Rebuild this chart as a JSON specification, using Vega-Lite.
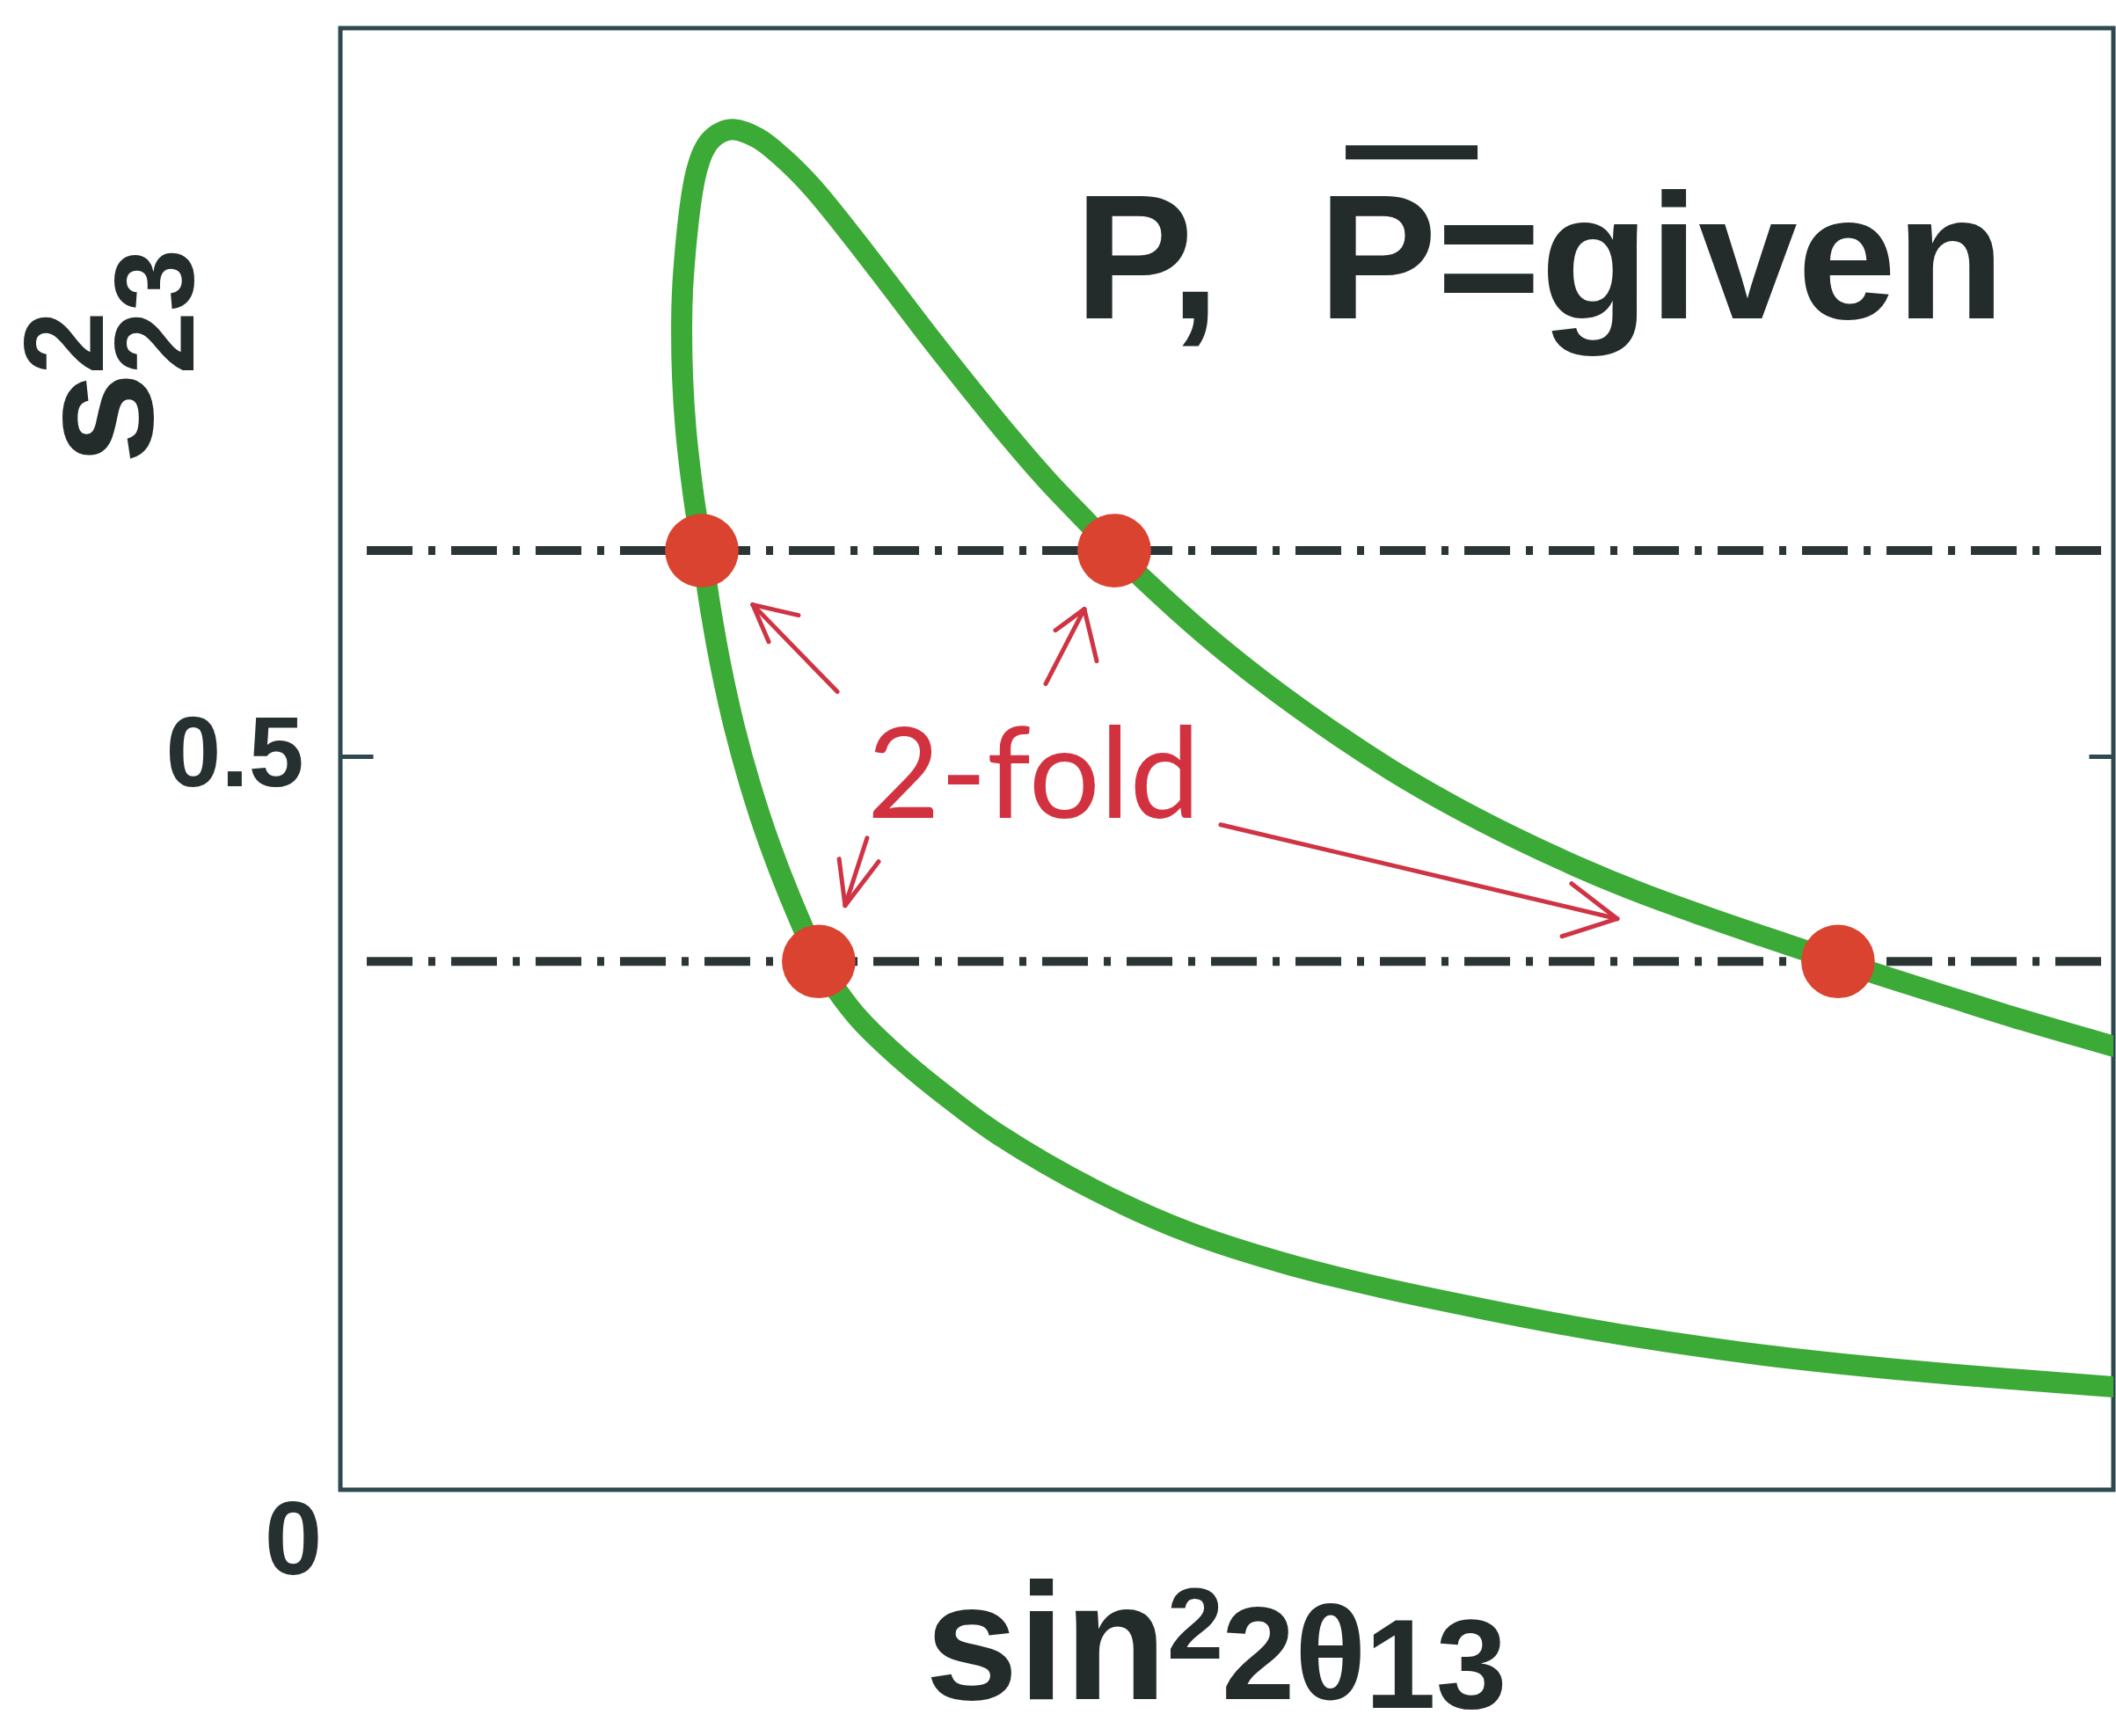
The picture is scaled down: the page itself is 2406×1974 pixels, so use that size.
{
  "$schema": "https://vega.github.io/schema/vega-lite/v6.json",
  "autosize": {"type": "none"},
  "padding": {"left": 387, "top": 32, "right": 3, "bottom": 280},
  "width": 2016,
  "height": 1662,
  "background": "white",
  "config": {"view": {"stroke": "#2e4a50", "strokeWidth": 5}},
  "datasets": {
    "curve": [
      {"i": 0, "x": 1.0, "y": 0.3022},
      {"i": 1, "x": 0.9489, "y": 0.3201},
      {"i": 2, "x": 0.9077, "y": 0.3357},
      {"i": 3, "x": 0.8447, "y": 0.36},
      {"i": 4, "x": 0.8026, "y": 0.3771},
      {"i": 5, "x": 0.7679, "y": 0.3915},
      {"i": 6, "x": 0.7326, "y": 0.4071},
      {"i": 7, "x": 0.6979, "y": 0.4245},
      {"i": 8, "x": 0.6627, "y": 0.4442},
      {"i": 9, "x": 0.628, "y": 0.4658},
      {"i": 10, "x": 0.5928, "y": 0.4904},
      {"i": 11, "x": 0.558, "y": 0.518},
      {"i": 12, "x": 0.5228, "y": 0.5486},
      {"i": 13, "x": 0.4876, "y": 0.5827},
      {"i": 14, "x": 0.4529, "y": 0.6205},
      {"i": 15, "x": 0.4365, "y": 0.64},
      {"i": 16, "x": 0.4211, "y": 0.6595},
      {"i": 17, "x": 0.3988, "y": 0.6877},
      {"i": 18, "x": 0.3765, "y": 0.7188},
      {"i": 19, "x": 0.3547, "y": 0.7512},
      {"i": 20, "x": 0.3323, "y": 0.7854},
      {"i": 21, "x": 0.31, "y": 0.8207},
      {"i": 22, "x": 0.2882, "y": 0.8549},
      {"i": 23, "x": 0.2659, "y": 0.8879},
      {"i": 24, "x": 0.2495, "y": 0.9077},
      {"i": 25, "x": 0.2356, "y": 0.9209},
      {"i": 26, "x": 0.2217, "y": 0.9269},
      {"i": 27, "x": 0.2148, "y": 0.9251},
      {"i": 28, "x": 0.2088, "y": 0.9197},
      {"i": 29, "x": 0.2044, "y": 0.9113},
      {"i": 30, "x": 0.2009, "y": 0.8987},
      {"i": 31, "x": 0.1984, "y": 0.8837},
      {"i": 32, "x": 0.1964, "y": 0.8657},
      {"i": 33, "x": 0.1944, "y": 0.8417},
      {"i": 34, "x": 0.193, "y": 0.8177},
      {"i": 35, "x": 0.1925, "y": 0.7938},
      {"i": 36, "x": 0.193, "y": 0.7578},
      {"i": 37, "x": 0.1949, "y": 0.7218},
      {"i": 38, "x": 0.1989, "y": 0.6799},
      {"i": 39, "x": 0.2039, "y": 0.64},
      {"i": 40, "x": 0.2088, "y": 0.6001},
      {"i": 41, "x": 0.2148, "y": 0.56},
      {"i": 42, "x": 0.2222, "y": 0.5198},
      {"i": 43, "x": 0.2312, "y": 0.4802},
      {"i": 44, "x": 0.2421, "y": 0.44},
      {"i": 45, "x": 0.255, "y": 0.3999},
      {"i": 46, "x": 0.2698, "y": 0.36},
      {"i": 47, "x": 0.2803, "y": 0.3399},
      {"i": 48, "x": 0.2932, "y": 0.3201},
      {"i": 49, "x": 0.317, "y": 0.2926},
      {"i": 50, "x": 0.3438, "y": 0.2662},
      {"i": 51, "x": 0.371, "y": 0.2422},
      {"i": 52, "x": 0.4251, "y": 0.2044},
      {"i": 53, "x": 0.4792, "y": 0.1751},
      {"i": 54, "x": 0.5332, "y": 0.1541},
      {"i": 55, "x": 0.5868, "y": 0.1379},
      {"i": 56, "x": 0.6409, "y": 0.1241},
      {"i": 57, "x": 0.6949, "y": 0.1115},
      {"i": 58, "x": 0.749, "y": 0.1007},
      {"i": 59, "x": 0.8031, "y": 0.0917},
      {"i": 60, "x": 0.8571, "y": 0.0845},
      {"i": 61, "x": 0.9107, "y": 0.0785},
      {"i": 62, "x": 1.0, "y": 0.0701}
    ],
    "levels": [{"y": 0.64}, {"y": 0.36}],
    "dots": [
      {"x": 0.2039, "y": 0.64},
      {"x": 0.4365, "y": 0.64},
      {"x": 0.2698, "y": 0.36},
      {"x": 0.8447, "y": 0.36}
    ],
    "arrows": [
      {"x": 0.2803, "y": 0.5438, "x2": 0.2326, "y2": 0.6031},
      {"x": 0.2326, "y": 0.6031, "x2": 0.2584, "y2": 0.5959},
      {"x": 0.2326, "y": 0.6031, "x2": 0.2416, "y2": 0.5779},
      {"x": 0.3978, "y": 0.5492, "x2": 0.4196, "y2": 0.6001},
      {"x": 0.4196, "y": 0.6001, "x2": 0.4033, "y2": 0.5857},
      {"x": 0.4196, "y": 0.6001, "x2": 0.4266, "y2": 0.5647},
      {"x": 0.2971, "y": 0.4442, "x2": 0.2847, "y2": 0.3981},
      {"x": 0.2847, "y": 0.3981, "x2": 0.2813, "y2": 0.4299},
      {"x": 0.2847, "y": 0.3981, "x2": 0.3036, "y2": 0.4281},
      {"x": 0.4965, "y": 0.4532, "x2": 0.7202, "y2": 0.3891},
      {"x": 0.7202, "y": 0.3891, "x2": 0.6944, "y2": 0.4131},
      {"x": 0.7202, "y": 0.3891, "x2": 0.689, "y2": 0.3771}
    ],
    "overbar": [{"x": 0.567, "x2": 0.6414, "y": 0.9113}],
    "notes": [
      {"key": "title", "text": "P,\u00a0\u00a0P=given", "x": 0.4142, "y": 0.798},
      {"key": "fold", "text": "2-fold", "x": 0.2971, "y": 0.458},
      {"key": "ys", "text": "s", "x": -0.1062, "y": 0.7302},
      {"key": "yidx", "text": "2", "x": -0.1339, "y": 0.7602},
      {"key": "yidx", "text": "23", "x": -0.0828, "y": 0.7602},
      {"key": "xsin", "text": "sin", "x": 0.3299, "y": -0.1427},
      {"key": "xsup", "text": "2", "x": 0.4663, "y": -0.1151},
      {"key": "x2t", "text": "2θ", "x": 0.497, "y": -0.1427},
      {"key": "xsub", "text": "13", "x": 0.5779, "y": -0.1487}
    ]
  },
  "resolve": {"axis": {"y": "independent"}},
  "layer": [
    {
      "data": {"name": "curve"},
      "mark": {"type": "line", "interpolate": "catmull-rom", "stroke": "#3caa37", "strokeWidth": 24, "strokeCap": "round", "strokeJoin": "round", "clip": true},
      "encoding": {
        "x": {"field": "x", "type": "quantitative", "scale": {"domain": [0, 1], "nice": false, "zero": false}, "axis": null},
        "y": {
          "field": "y", "type": "quantitative",
          "scale": {"domain": [0, 0.996], "nice": false, "zero": false},
          "axis": {
            "orient": "left", "values": [0, 0.5], "title": null, "domain": false, "grid": false,
            "ticks": true, "tickSize": -37, "tickWidth": 5, "tickColor": "#2e4a50",
            "tickOpacity": {"condition": {"test": "datum.value === 0", "value": 0}, "value": 1},
            "labelExpr": "datum.value === 0 ? '0' : '0.5'",
            "labelFont": "Liberation Sans", "labelFontWeight": "bold", "labelColor": "#263030",
            "labelFontSize": {"condition": {"test": "datum.value === 0", "value": 118}, "value": 113},
            "labelPadding": {"condition": {"test": "datum.value === 0", "value": 58}, "value": 79},
            "labelOffset": {"condition": {"test": "datum.value === 0", "value": 60}, "value": 0},
            "labelAlign": "right", "labelBaseline": "middle",
            "labelOverlap": false, "labelFlush": false, "labelBound": false
          }
        },
        "order": {"field": "i", "type": "quantitative"}
      }
    },
    {
      "data": {"name": "levels"},
      "mark": {"type": "rule", "stroke": "#2b3535", "strokeWidth": 10, "strokeDash": [52, 18, 8, 18], "strokeCap": "butt"},
      "encoding": {
        "x": {"datum": 0.0149, "type": "quantitative", "scale": {"domain": [0, 1], "nice": false, "zero": false}, "axis": null},
        "x2": {"datum": 1},
        "y": {"field": "y", "type": "quantitative", "scale": {"domain": [0, 0.996], "nice": false, "zero": false}, "axis": null}
      }
    },
    {
      "data": {"name": "dots"},
      "mark": {"type": "point", "shape": "circle", "filled": true, "size": 7000, "color": "#d9432f", "opacity": 1},
      "encoding": {
        "x": {"field": "x", "type": "quantitative", "scale": {"domain": [0, 1], "nice": false, "zero": false}, "axis": null},
        "y": {
          "field": "y", "type": "quantitative",
          "scale": {"domain": [0, 0.996], "nice": false, "zero": false},
          "axis": {
            "orient": "right", "values": [0.5], "title": null, "domain": false, "grid": false,
            "labels": false, "ticks": true, "tickSize": -28, "tickWidth": 5, "tickColor": "#2e4a50"
          }
        }
      }
    },
    {
      "data": {"name": "arrows"},
      "mark": {"type": "rule", "stroke": "#cf3444", "strokeWidth": 5, "strokeCap": "round"},
      "encoding": {
        "x": {"field": "x", "type": "quantitative", "scale": {"domain": [0, 1], "nice": false, "zero": false}, "axis": null},
        "y": {"field": "y", "type": "quantitative", "scale": {"domain": [0, 0.996], "nice": false, "zero": false}, "axis": null},
        "x2": {"field": "x2"},
        "y2": {"field": "y2"}
      }
    },
    {
      "data": {"name": "overbar"},
      "mark": {"type": "rule", "stroke": "#232b2b", "strokeWidth": 16, "strokeCap": "butt"},
      "encoding": {
        "x": {"field": "x", "type": "quantitative", "scale": {"domain": [0, 1], "nice": false, "zero": false}, "axis": null},
        "x2": {"field": "x2"},
        "y": {"field": "y", "type": "quantitative", "scale": {"domain": [0, 0.996], "nice": false, "zero": false}, "axis": null}
      }
    },
    {
      "data": {"name": "notes"},
      "transform": [{"filter": "datum.key === 'title'"}],
      "mark": {"type": "text", "font": "Liberation Sans", "fontWeight": "bold", "fontSize": 202, "color": "#232b2b", "align": "left", "baseline": "alphabetic"},
      "encoding": {
        "x": {"field": "x", "type": "quantitative", "scale": {"domain": [0, 1], "nice": false, "zero": false}, "axis": null},
        "y": {"field": "y", "type": "quantitative", "scale": {"domain": [0, 0.996], "nice": false, "zero": false}, "axis": null},
        "text": {"field": "text"}
      }
    },
    {
      "data": {"name": "notes"},
      "transform": [{"filter": "datum.key === 'fold'"}],
      "mark": {"type": "text", "font": "Lato", "fontWeight": 400, "fontSize": 143, "color": "#d2323f", "align": "left", "baseline": "alphabetic"},
      "encoding": {
        "x": {"field": "x", "type": "quantitative", "scale": {"domain": [0, 1], "nice": false, "zero": false}, "axis": null},
        "y": {"field": "y", "type": "quantitative", "scale": {"domain": [0, 0.996], "nice": false, "zero": false}, "axis": null},
        "text": {"field": "text"}
      }
    },
    {
      "data": {"name": "notes"},
      "transform": [{"filter": "datum.key === 'ys'"}],
      "mark": {"type": "text", "font": "Liberation Sans", "fontWeight": "bold", "fontSize": 190, "color": "#232b2b", "align": "center", "baseline": "alphabetic", "angle": 270},
      "encoding": {
        "x": {"field": "x", "type": "quantitative", "scale": {"domain": [0, 1], "nice": false, "zero": false}, "axis": null},
        "y": {"field": "y", "type": "quantitative", "scale": {"domain": [0, 0.996], "nice": false, "zero": false}, "axis": null},
        "text": {"field": "text"}
      }
    },
    {
      "data": {"name": "notes"},
      "transform": [{"filter": "datum.key === 'yidx'"}],
      "mark": {"type": "text", "font": "Liberation Sans", "fontWeight": "bold", "fontSize": 128, "color": "#232b2b", "align": "left", "baseline": "alphabetic", "angle": 270},
      "encoding": {
        "x": {"field": "x", "type": "quantitative", "scale": {"domain": [0, 1], "nice": false, "zero": false}, "axis": null},
        "y": {"field": "y", "type": "quantitative", "scale": {"domain": [0, 0.996], "nice": false, "zero": false}, "axis": null},
        "text": {"field": "text"}
      }
    },
    {
      "data": {"name": "notes"},
      "transform": [{"filter": "datum.key === 'xsin'"}],
      "mark": {"type": "text", "font": "Liberation Sans", "fontWeight": "bold", "fontSize": 190, "color": "#232b2b", "align": "left", "baseline": "alphabetic"},
      "encoding": {
        "x": {"field": "x", "type": "quantitative", "scale": {"domain": [0, 1], "nice": false, "zero": false}, "axis": null},
        "y": {"field": "y", "type": "quantitative", "scale": {"domain": [0, 0.996], "nice": false, "zero": false}, "axis": null},
        "text": {"field": "text"}
      }
    },
    {
      "data": {"name": "notes"},
      "transform": [{"filter": "datum.key === 'xsup'"}],
      "mark": {"type": "text", "font": "Liberation Sans", "fontWeight": "bold", "fontSize": 115, "color": "#232b2b", "align": "left", "baseline": "alphabetic"},
      "encoding": {
        "x": {"field": "x", "type": "quantitative", "scale": {"domain": [0, 1], "nice": false, "zero": false}, "axis": null},
        "y": {"field": "y", "type": "quantitative", "scale": {"domain": [0, 0.996], "nice": false, "zero": false}, "axis": null},
        "text": {"field": "text"}
      }
    },
    {
      "data": {"name": "notes"},
      "transform": [{"filter": "datum.key === 'x2t'"}],
      "mark": {"type": "text", "font": "Liberation Sans", "fontWeight": "bold", "fontSize": 150, "color": "#232b2b", "align": "left", "baseline": "alphabetic"},
      "encoding": {
        "x": {"field": "x", "type": "quantitative", "scale": {"domain": [0, 1], "nice": false, "zero": false}, "axis": null},
        "y": {"field": "y", "type": "quantitative", "scale": {"domain": [0, 0.996], "nice": false, "zero": false}, "axis": null},
        "text": {"field": "text"}
      }
    },
    {
      "data": {"name": "notes"},
      "transform": [{"filter": "datum.key === 'xsub'"}],
      "mark": {"type": "text", "font": "Liberation Sans", "fontWeight": "bold", "fontSize": 145, "color": "#232b2b", "align": "left", "baseline": "alphabetic"},
      "encoding": {
        "x": {"field": "x", "type": "quantitative", "scale": {"domain": [0, 1], "nice": false, "zero": false}, "axis": null},
        "y": {"field": "y", "type": "quantitative", "scale": {"domain": [0, 0.996], "nice": false, "zero": false}, "axis": null},
        "text": {"field": "text"}
      }
    }
  ]
}
